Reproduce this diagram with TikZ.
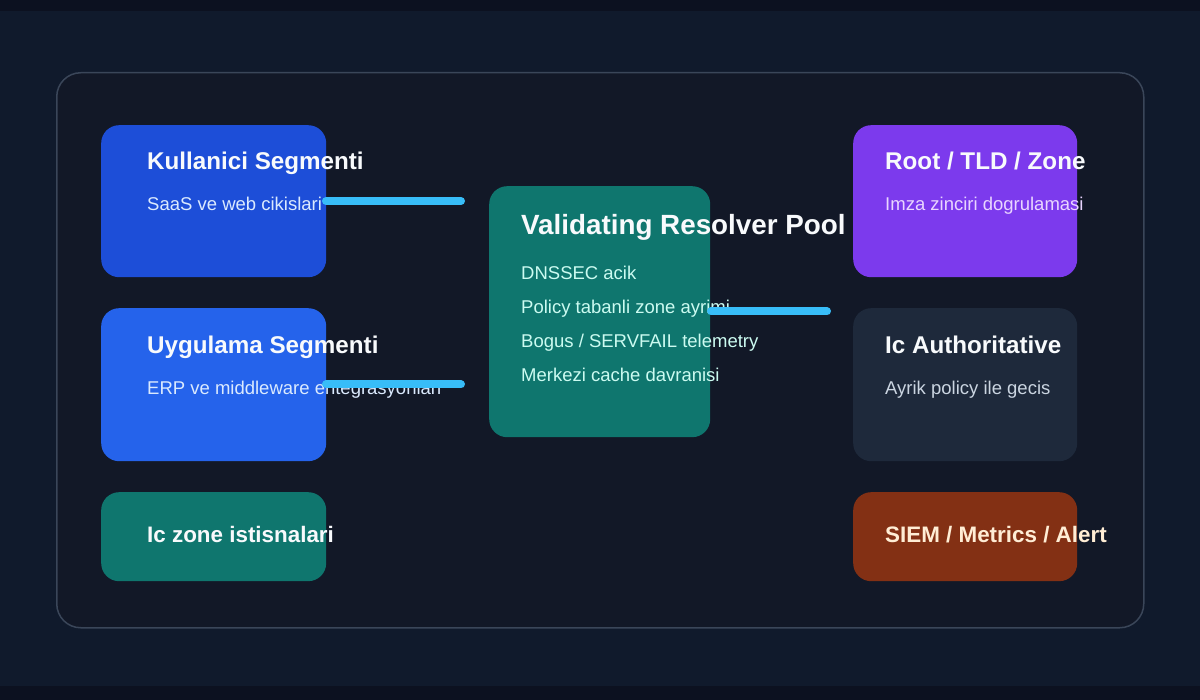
\documentclass[tikz,border=0pt]{standalone}
\usepackage{fontspec}
\setmainfont{Liberation Sans}
\definecolor{bgc}{HTML}{101A2C}
\definecolor{bandc}{HTML}{0C1120}
\definecolor{panelc}{HTML}{121827}
\definecolor{panelline}{HTML}{3A4659}
\definecolor{blueA}{HTML}{1D4ED8}
\definecolor{blueB}{HTML}{2563EB}
\definecolor{tealc}{HTML}{0F766E}
\definecolor{purplec}{HTML}{7C3AED}
\definecolor{slatec}{HTML}{1E293B}
\definecolor{rustc}{HTML}{833014}
\definecolor{linec}{HTML}{38BDF8}
\definecolor{titlec}{HTML}{F8FAFC}
\definecolor{subblue}{HTML}{DBEAFE}
\definecolor{subteal}{HTML}{CCFBF1}
\definecolor{subpurple}{HTML}{E9D5FF}
\definecolor{subslate}{HTML}{CBD5E1}
\definecolor{siemc}{HTML}{FFEDD5}
\begin{document}
\begin{tikzpicture}[x=1pt,y=-1pt,
  card/.style={rounded corners=18pt, draw=none, anchor=north west, inner sep=0pt},
  ttl/.style={anchor=base west, inner sep=0pt, font=\fontsize{24.2}{28}\selectfont\bfseries, text=titlec},
  smallttl/.style={anchor=base west, inner sep=0pt, font=\fontsize{22.4}{26}\selectfont\bfseries, text=titlec},
  bigttl/.style={anchor=base west, inner sep=0pt, font=\fontsize{27.8}{32}\selectfont\bfseries, text=titlec},
  sub/.style={anchor=base west, inner sep=0pt, font=\fontsize{18.5}{22}\selectfont},
  conn/.style={draw=linec, line width=8pt, line cap=round}]
\useasboundingbox (0,0) rectangle (1200,700);
\fill[bgc] (0,0) rectangle (1200,700);
\fill[bandc] (0,0) rectangle (1200,11);
\fill[bandc] (0,686) rectangle (1200,700);
\node[card, fill=panelc, draw=panelline, line width=1.5pt, rounded corners=24pt, minimum width=1087pt, minimum height=555pt] (panel) at (56,72) {};
% cards
\node[card, fill=blueA, minimum width=225pt, minimum height=152pt] (k) at (101,125) {};
\node[card, fill=blueB, minimum width=225pt, minimum height=153pt] (u) at (101,308) {};
\node[card, fill=tealc, minimum width=225pt, minimum height=89pt] (iz) at (101,492) {};
\node[card, fill=tealc, minimum width=221pt, minimum height=251pt] (v) at (489,186) {};
\node[card, fill=purplec, minimum width=224pt, minimum height=152pt] (r) at (853,125) {};
\node[card, fill=slatec, minimum width=224pt, minimum height=153pt] (ia) at (853,308) {};
\node[card, fill=rustc, minimum width=224pt, minimum height=89pt] (s) at (853,492) {};
% texts
\node[ttl] (kt) at (147,170) {Kullanici Segmenti};
\node[sub, text=subblue] (ks) at (147,210.5) {SaaS ve web cikislari};
\node[ttl] (ut) at (147,353.3) {Uygulama Segmenti};
\node[sub, text=subblue] (us) at (147,394.5) {ERP ve middleware entegrasyonlari};
\node[smallttl] (izt) at (147,542.3) {Ic zone istisnalari};
\node[bigttl] (vt) at (521,234.3) {Validating Resolver Pool};
\node[sub, text=subteal] (v1) at (521,280) {DNSSEC acik};
\node[sub, text=subteal] (v2) at (521,314) {Policy tabanli zone ayrimi};
\node[sub, text=subteal] (v3) at (521,348) {Bogus / SERVFAIL telemetry};
\node[sub, text=subteal] (v4) at (521,382) {Merkezi cache davranisi};
\node[ttl] (rt) at (885,170) {Root / TLD / Zone};
\node[sub, text=subpurple] (rs) at (885,210.5) {Imza zinciri dogrulamasi};
\node[ttl] (iat) at (885,353.3) {Ic Authoritative};
\node[sub, text=subslate] (ias) at (885,394.5) {Ayrik policy ile gecis};
\node[smallttl, text=siemc] (st) at (885,542.3) {SIEM / Metrics / Alert};
% connectors
\coordinate (c1a) at (326,201);
\coordinate (c1b) at (461,201);
\coordinate (c2a) at (326,384.5);
\coordinate (c2b) at (461,384.5);
\coordinate (c3a) at (711,311.5);
\coordinate (c3b) at (827,311.5);
\draw[conn] (c1a) -- (c1b);
\draw[conn] (c2a) -- (c2b);
\draw[conn] (c3a) -- (c3b);
\end{tikzpicture}
\end{document}
